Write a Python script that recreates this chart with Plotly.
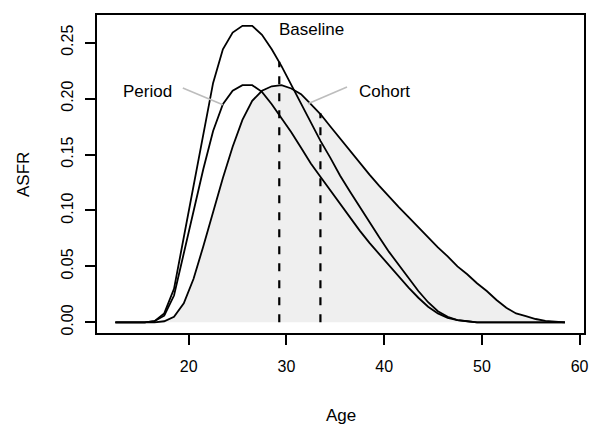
import plotly.graph_objects as go

# ---- data ----
ages = [12.5, 13.5, 14.5, 15.5, 16.5, 17.5, 18.5, 19.5, 20.5, 21.5, 22.5, 23.5,
        24.5, 25.5, 26.5, 27.5, 28.5, 29.5, 30.5, 31.5, 32.5, 33.5, 34.5, 35.5,
        36.5, 37.5, 38.5, 39.5, 40.5, 41.5, 42.5, 43.5, 44.5, 45.5, 46.5, 47.5,
        48.5, 49.5, 50.5, 51.5, 52.5, 53.5, 54.5, 55.5, 56.5, 57.5, 58.5]

baseline = [0, 0, 0, 0, 0.001, 0.008, 0.030, 0.076, 0.124, 0.171, 0.214, 0.244,
            0.259, 0.265, 0.265, 0.257, 0.244, 0.229, 0.212, 0.195, 0.178, 0.162,
            0.147, 0.131, 0.117, 0.103, 0.089, 0.076, 0.063, 0.051, 0.039, 0.028,
            0.018, 0.010, 0.005, 0.002, 0.001, 0, 0, 0, 0, 0, 0, 0, 0, 0, 0]

period = [0, 0, 0, 0, 0.001, 0.006, 0.024, 0.061, 0.099, 0.137, 0.171, 0.195,
          0.207, 0.212, 0.212, 0.206, 0.195, 0.183, 0.170, 0.156, 0.142, 0.130,
          0.118, 0.105, 0.094, 0.082, 0.071, 0.061, 0.050, 0.041, 0.031, 0.022,
          0.014, 0.008, 0.004, 0.002, 0.001, 0, 0, 0, 0, 0, 0, 0, 0, 0, 0]

cohort = [0, 0, 0, 0, 0, 0.001, 0.005, 0.017, 0.039, 0.068, 0.099, 0.129,
          0.157, 0.181, 0.198, 0.207, 0.211, 0.212, 0.209, 0.204, 0.195, 0.186,
          0.175, 0.164, 0.153, 0.142, 0.132, 0.122, 0.112, 0.103, 0.094, 0.085,
          0.076, 0.067, 0.059, 0.050, 0.043, 0.035, 0.028, 0.020, 0.013, 0.008,
          0.0056, 0.003, 0.0014, 0.001, 0]

mean_ages = [29.27, 33.48]          # baseline mean age, cohort mean age
mean_heights = [0.233, 0.187]

label_texts = ["Baseline", "Period", "Cohort"]
label_x = [32.6, 15.8, 40.0]
label_y = [0.262, 0.2065, 0.2065]

period_ptr_x = [19.4, 23.5]
period_ptr_y = [0.2095, 0.1944]
cohort_ptr_x = [32.2, 36.2]
cohort_ptr_y = [0.1953, 0.2104]

x_ticks = [20, 30, 40, 50, 60]
y_ticks = [0.00, 0.05, 0.10, 0.15, 0.20, 0.25]

FONT = "Liberation Sans, Arial, Helvetica, sans-serif"

fig = go.Figure()

fig.add_trace(go.Scatter(x=ages, y=cohort, mode="lines", fill="tozeroy",
                         fillcolor="#efefef",
                         line=dict(color="black", width=1.8), hoverinfo="skip"))
for mx, mh in zip(mean_ages, mean_heights):
    fig.add_trace(go.Scatter(x=[mx, mx], y=[0, mh], mode="lines",
                             line=dict(color="black", width=2.2, dash="8px,9px"),
                             hoverinfo="skip"))
fig.add_trace(go.Scatter(x=ages, y=baseline, mode="lines",
                         line=dict(color="black", width=1.8), hoverinfo="skip"))
fig.add_trace(go.Scatter(x=ages, y=period, mode="lines",
                         line=dict(color="black", width=1.8), hoverinfo="skip"))
fig.add_trace(go.Scatter(x=period_ptr_x, y=period_ptr_y, mode="lines",
                         line=dict(color="#bdbdbd", width=1.6), hoverinfo="skip"))
fig.add_trace(go.Scatter(x=cohort_ptr_x, y=cohort_ptr_y, mode="lines",
                         line=dict(color="#bdbdbd", width=1.6), hoverinfo="skip"))

for t, lx, ly in zip(label_texts, label_x, label_y):
    fig.add_annotation(x=lx, y=ly, text=t, showarrow=False,
                       font=dict(family=FONT, size=17, color="black"),
                       xanchor="center", yanchor="middle")

fig.add_annotation(x=0.5, y=-0.26, xref="paper", yref="paper", text="Age",
                   showarrow=False, font=dict(family=FONT, size=17, color="black"),
                   xanchor="center", yanchor="middle")
fig.add_annotation(x=-0.152, y=0.5, xref="paper", yref="paper", text="ASFR",
                   textangle=-90, showarrow=False,
                   font=dict(family=FONT, size=17, color="black"),
                   xanchor="center", yanchor="middle")

fig.update_layout(
    width=589, height=424,
    margin=dict(l=97, r=5, t=15, b=91, autoexpand=False),
    paper_bgcolor="white", plot_bgcolor="white",
    showlegend=False,
    font=dict(family=FONT, size=16, color="black"),
)
fig.update_xaxes(range=[10.62, 60.45], tickvals=x_ticks, ticks="outside", ticklen=10,
                 tickwidth=1.5, tickcolor="black", showline=True, linecolor="black",
                 linewidth=1.5, mirror=True, showgrid=False, zeroline=False,
                 tickfont=dict(size=16), ticklabelstandoff=8, automargin=False,
                 ticklabeloverflow="allow")
fig.update_yaxes(range=[-0.0095, 0.2747], tickvals=y_ticks, tickformat=".2f",
                 ticks="outside", ticklen=10, tickwidth=1.5, tickcolor="black",
                 showline=True, linecolor="black", linewidth=1.5, mirror=True,
                 showgrid=False, zeroline=False, tickangle=-90,
                 tickfont=dict(size=16), ticklabelstandoff=6, automargin=False,
                 ticklabeloverflow="allow")

# remove the browser's default 8px page margin so the figure fills the window
fig.write_html("out.html", config={"displayModeBar": False},
               post_script="document.body.style.margin='0px';")
